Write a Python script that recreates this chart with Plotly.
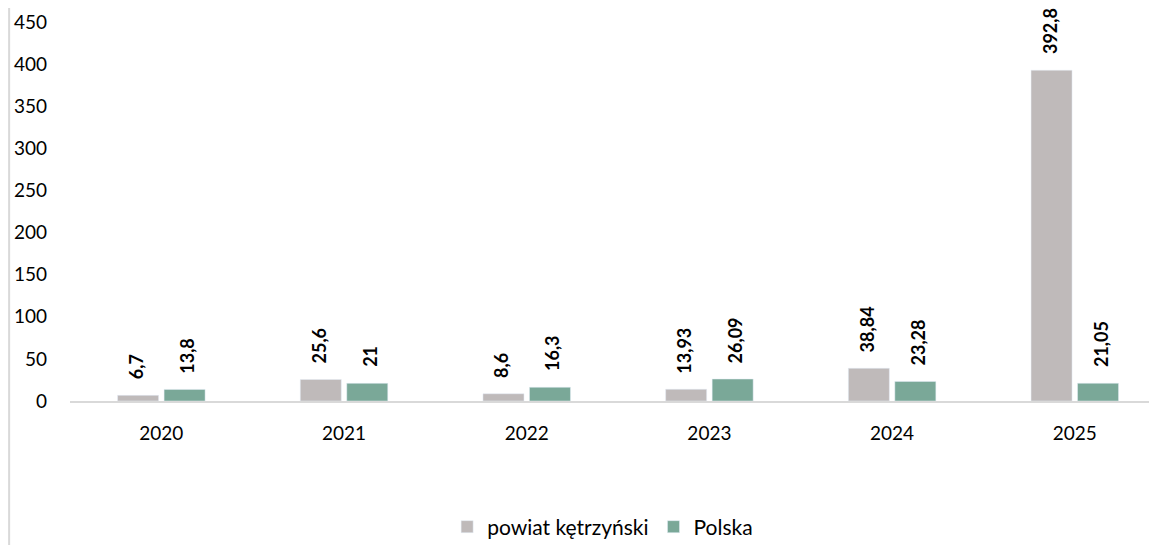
import plotly.graph_objects as go

years = ["2020", "2021", "2022", "2023", "2024", "2025"]
powiat = [6.7, 25.6, 8.6, 13.93, 38.84, 392.8]
polska = [13.8, 21, 16.3, 26.09, 23.28, 21.05]
powiat_lbl = ["6,7", "25,6", "8,6", "13,93", "38,84", "392,8"]
polska_lbl = ["13,8", "21", "16,3", "26,09", "23,28", "21,05"]
yticks = [0, 50, 100, 150, 200, 250, 300, 350, 400, 450]

GREY = "#BFBABA"
TEAL = "#7AA898"
FONT = "Lato"

fig = go.Figure()
fig.add_trace(go.Bar(x=years, y=powiat, name="powiat kętrzyński", marker_color=GREY))
fig.add_trace(go.Bar(x=years, y=polska, name="Polska", marker_color=TEAL))

anns = []
for i in range(len(years)):
    for val, lbl, shift in ((powiat[i], powiat_lbl[i], -25), (polska[i], polska_lbl[i], 26)):
        anns.append(dict(x=i, y=val, xref="x", yref="y", text="<b>" + lbl + "</b>", textangle=-90,
                         showarrow=False, xanchor="center", yanchor="bottom",
                         xshift=shift, yshift=14,
                         font=dict(family=FONT, size=18, color="#000000")))

fig.update_layout(
    width=1157, height=545,
    margin=dict(l=62, r=8, t=0, b=152, autoexpand=False),
    paper_bgcolor="white", plot_bgcolor="white",
    barmode="group", bargap=0.491, bargroupgap=0.118,
    font=dict(family=FONT, size=19, color="#000000"),
    showlegend=True,
    legend=dict(orientation="h", x=0.49, xanchor="center", y=-0.3206, yanchor="middle",
                font=dict(family=FONT, size=21), itemwidth=30, traceorder="normal"),
    annotations=anns,
    shapes=[dict(type="line", xref="paper", yref="paper", x0=-0.056, x1=-0.056,
                 y0=-0.4, y1=1.0, line=dict(color="#D9D9D9", width=2))],
)
fig.update_xaxes(type="category", range=[-0.5, 5.45], showline=True, linecolor="#D9D9D9",
                 linewidth=2, showgrid=False, ticks="", ticklabelstandoff=14,
                 automargin=False, tickfont=dict(family=FONT, size=19))
fig.update_yaxes(range=[0, 466.7], tickvals=yticks, showgrid=False, showline=False,
                 zeroline=False, ticks="", ticklabelstandoff=22, automargin=False,
                 tickfont=dict(family=FONT, size=19))

fig.write_html("out.html")
